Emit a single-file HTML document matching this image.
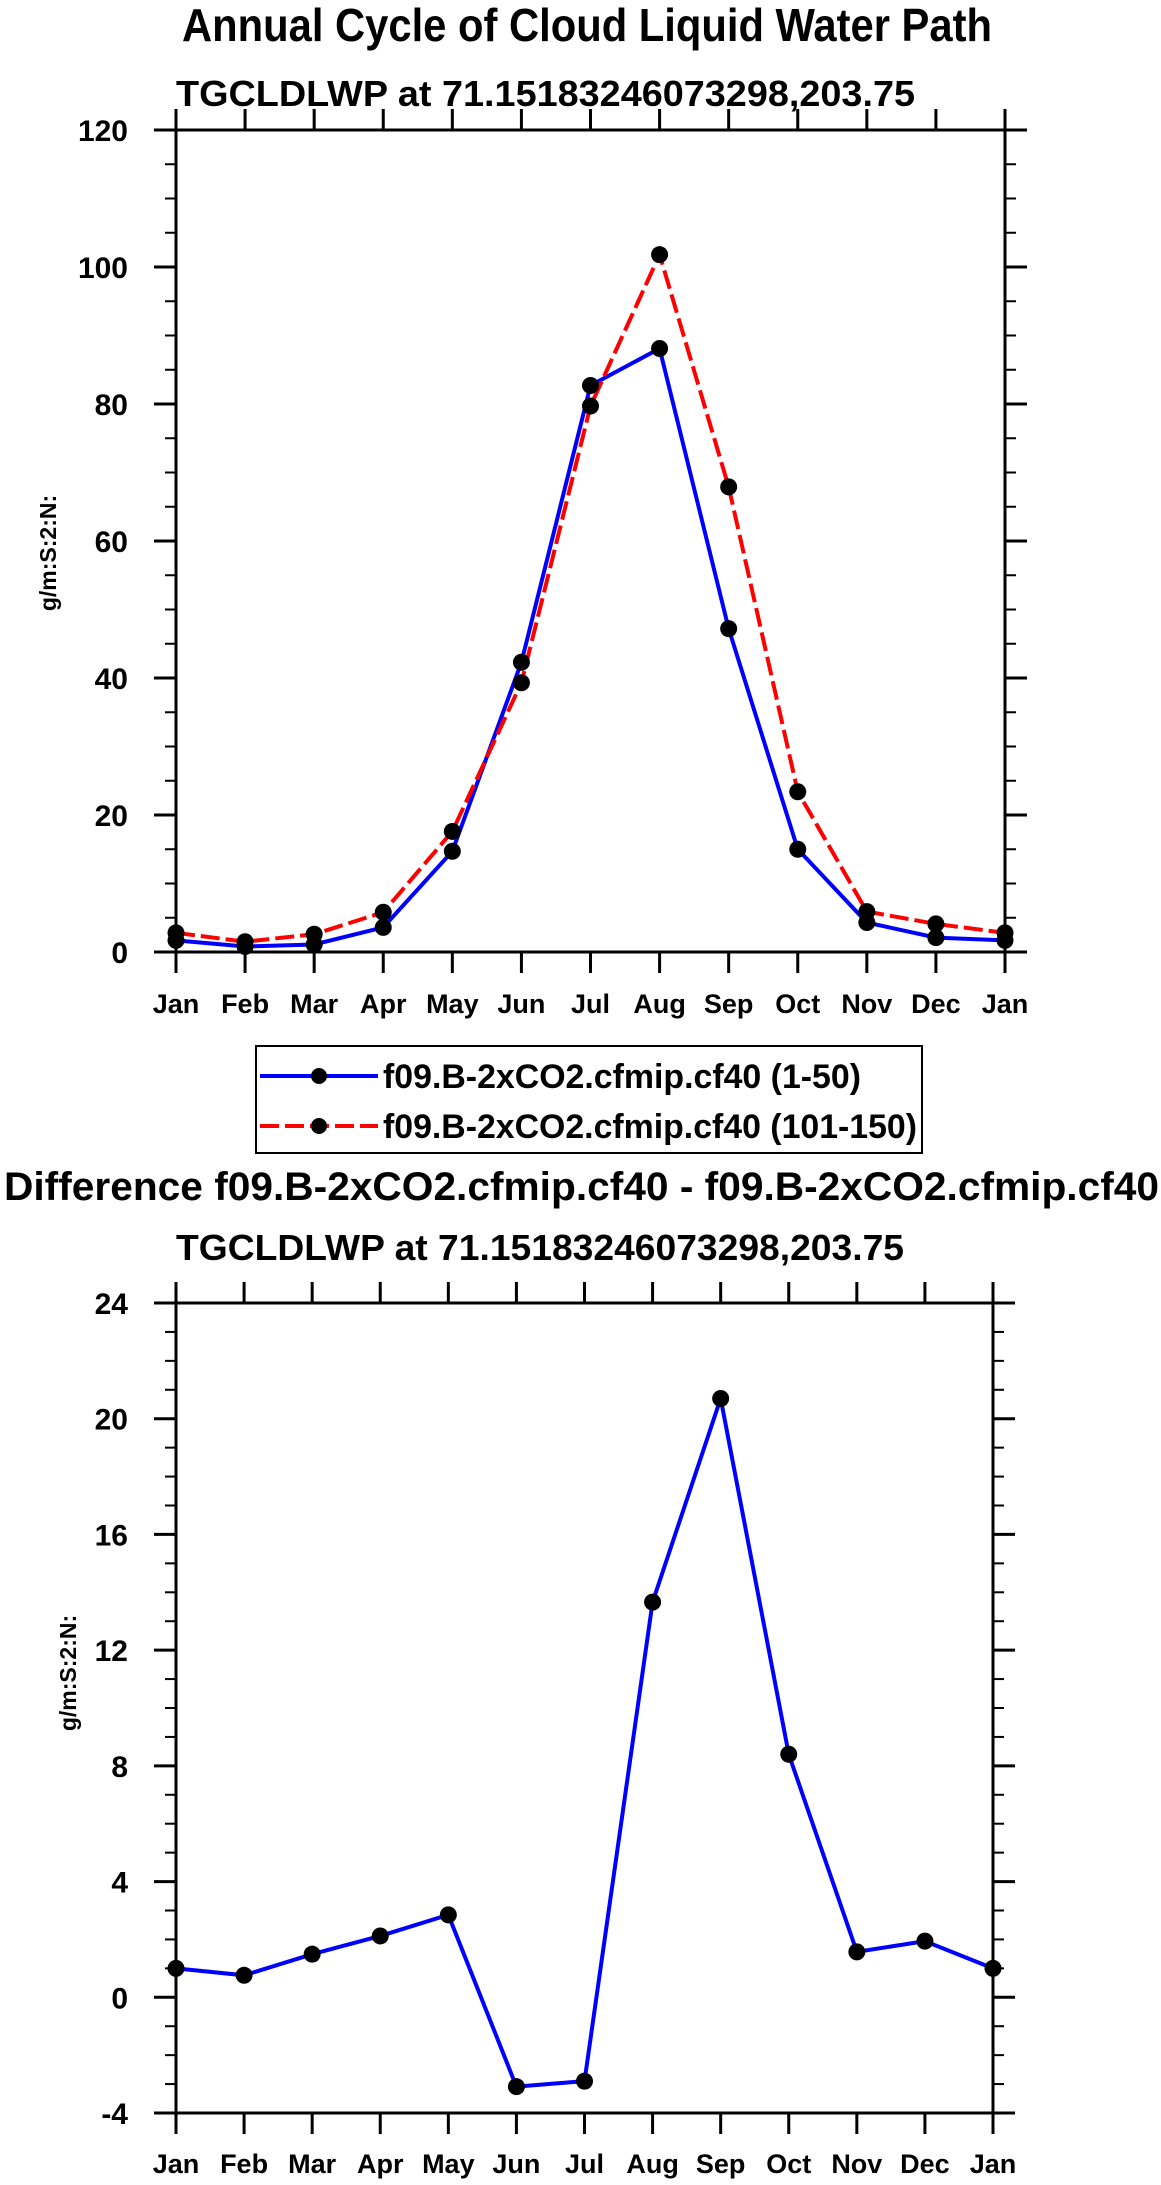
<!DOCTYPE html>
<html><head><meta charset="utf-8"><style>
html,body{margin:0;padding:0;background:#fff;}
svg{display:block;font-family:"Liberation Sans",sans-serif;font-weight:bold;}
</style></head><body>
<svg id="chart" width="1161" height="2185" viewBox="0 0 1161 2185" xmlns="http://www.w3.org/2000/svg">
<text x="182" y="41" font-size="46" textLength="810" lengthAdjust="spacingAndGlyphs">Annual Cycle of Cloud Liquid Water Path</text>
<text x="176" y="106" font-size="36" textLength="739" lengthAdjust="spacingAndGlyphs">TGCLDLWP at 71.15183246073298,203.75</text>
<text x="4" y="1200" font-size="40" textLength="1155" lengthAdjust="spacingAndGlyphs">Difference f09.B-2xCO2.cfmip.cf40 - f09.B-2xCO2.cfmip.cf40</text>
<text x="176" y="1260" font-size="36" textLength="728" lengthAdjust="spacingAndGlyphs">TGCLDLWP at 71.15183246073298,203.75</text>
<g>
<rect x="256" y="1046" width="666" height="107" fill="none" stroke="#000" stroke-width="2"/>
<g>
<line x1="260" y1="1076" x2="378" y2="1076" stroke="#0000ff" stroke-width="4"/>
<circle cx="319" cy="1076" r="8"/>
<text x="383" y="1088" font-size="34" textLength="478" lengthAdjust="spacingAndGlyphs">f09.B-2xCO2.cfmip.cf40 (1-50)</text>
</g>
<g>
<line x1="260" y1="1126" x2="378" y2="1126" stroke="#ff0000" stroke-width="4" stroke-dasharray="19,6"/>
<circle cx="319" cy="1126" r="8"/>
<text x="383" y="1138" font-size="34" textLength="534" lengthAdjust="spacingAndGlyphs">f09.B-2xCO2.cfmip.cf40 (101-150)</text>
</g>
</g>
<g id="top"></g>
<g id="bot"></g>
</svg>
<script>
const months = ["Jan","Feb","Mar","Apr","May","Jun","Jul","Aug","Sep","Oct","Nov","Dec","Jan"];
const series1 = [1.7,0.8,1.1,3.6,14.7,42.3,82.7,88.1,47.2,15.0,4.3,2.1,1.7];
const series2 = [2.8,1.5,2.6,5.8,17.6,39.3,79.7,101.8,67.9,23.4,5.9,4.1,2.8];
const topTicks = [0,20,40,60,80,100,120];
const diffValues = [1.0,0.76,1.49,2.12,2.85,-3.09,-2.9,13.66,20.7,8.4,1.57,1.94,1.0];
const diffTicks = [-4,0,4,8,12,16,20,24];
const NS="http://www.w3.org/2000/svg";
function mk(parent,tag,attrs){const e=document.createElementNS(NS,tag);for(const k in attrs)e.setAttribute(k,attrs[k]);parent.appendChild(e);return e;}
function drawPlot(g,L,R,T,B,yMin,yMax,ticks,minorStep,titleX,titleY,labelY,seriesList,prefix){
  const x=i=>L+(R-L)*i/(months.length-1);
  const y=v=>B-(B-T)*(v-yMin)/(yMax-yMin);
  const frame=mk(g,'rect',{x:L,y:T,width:R-L,height:B-T,fill:'none',stroke:'#000','stroke-width':3});
  
  
  for(let i=0;i<months.length;i++){
    mk(g,'line',{x1:x(i),y1:T,x2:x(i),y2:T-21,stroke:'#000','stroke-width':3});
    mk(g,'line',{x1:x(i),y1:B,x2:x(i),y2:B+21,stroke:'#000','stroke-width':3});
    const t=mk(g,'text',{x:x(i),y:labelY,'font-size':27,'text-anchor':'middle'});
    t.textContent=months[i];
    
    
  }
  for(let v=yMin;v<=yMax+1e-9;v+=minorStep){
    mk(g,'line',{x1:L,y1:y(v),x2:L-11,y2:y(v),stroke:'#000','stroke-width':2});
    mk(g,'line',{x1:R,y1:y(v),x2:R+11,y2:y(v),stroke:'#000','stroke-width':2});
  }
  ticks.forEach(v=>{
    mk(g,'line',{x1:L,y1:y(v),x2:L-22,y2:y(v),stroke:'#000','stroke-width':3});
    mk(g,'line',{x1:R,y1:y(v),x2:R+22,y2:y(v),stroke:'#000','stroke-width':3});
    const t=mk(g,'text',{x:128,y:y(v)+11,'font-size':30,'text-anchor':'end'});
    t.textContent=String(v);
    
    
  });
  const yt=mk(g,'text',{x:0,y:0,'font-size':23,'text-anchor':'middle',transform:`translate(${titleX},${titleY}) rotate(-90)`});
  yt.textContent='g/m:S:2:N:';
  
  
  seriesList.forEach(s=>{
    const pts=s.values.map((v,i)=>x(i)+','+y(v)).join(' ');
    const pl=mk(g,'polyline',{points:pts,fill:'none',stroke:s.color,'stroke-width':4,'stroke-dasharray':s.dash||'none'});
    
    
  });
  seriesList.forEach(s=>{
    s.values.forEach((v,i)=>{
      const c=mk(g,'circle',{cx:x(i),cy:y(v),r:8.5,fill:'#000'});
      
      
    });
  });
}
drawPlot(document.getElementById('top'),176,1005,130,952,0,120,topTicks,5,56,553,1013,
  [{values:series1,color:'#0000ff',name:'series-1-50'},{values:series2,color:'#ff0000',dash:'19,6',name:'series-101-150'}],'top');
drawPlot(document.getElementById('bot'),176,993,1303,2113,-4,24,diffTicks,1,76,1673,2173,
  [{values:diffValues,color:'#0000ff',name:'difference'}],'diff');
</script>
</body></html>
